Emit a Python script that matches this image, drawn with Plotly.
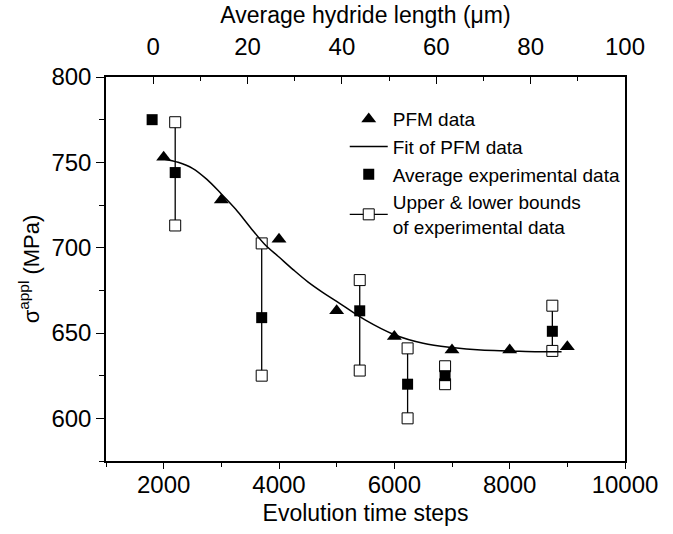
import plotly.graph_objects as go

# ---------------- data ----------------
pfm_x = [2000, 3000, 4000, 5000, 6000, 7000, 8000, 9000]
pfm_y = [753, 728, 705, 663, 648, 640, 640, 642]

fit_x = [2000, 2250, 2500, 2750, 3000, 3250, 3500, 3750, 4000, 4250, 4500,
         4750, 5000, 5500, 6000, 6500, 7000, 7500, 8000, 8500, 8900]
fit_y = [752, 750, 746.5, 740, 731.5, 722.5, 712, 702, 694.5, 687, 680,
         674, 668.5, 657.5, 649, 644, 641.5, 640, 639.5, 639, 639]

exp_x = [1800, 2200, 3700, 5400, 6230, 6880, 8740]
exp_avg = [775, 744, 659, 663, 620, 625, 651]

bnd_x = [2200, 3700, 5400, 6230, 6880, 8740]
bnd_upper = [773.5, 702.5, 681, 641, 630.5, 666]
bnd_lower = [713, 625, 628, 600, 620, 639.5]

hydride_range = [-10, 100]

FONT = "Liberation Sans, Arial, sans-serif"

# build bounds segments (None separated)
seg_x, seg_y = [], []
for xv, lo, hi in zip(bnd_x, bnd_lower, bnd_upper):
    seg_x += [xv, xv, None]
    seg_y += [lo, hi, None]

fig = go.Figure()

fig.add_trace(go.Scatter(
    x=seg_x, y=seg_y, mode="lines+markers",
    name="Upper & lower bounds<br>of experimental data",
    line=dict(color="black", width=1.3),
    marker=dict(symbol="square", size=11, color="white",
                line=dict(color="black", width=1)),
    legendrank=4,
))
fig.add_trace(go.Scatter(
    x=exp_x, y=exp_avg, mode="markers", name="Average experimental data",
    marker=dict(symbol="square", size=11, color="black"),
    legendrank=3,
))
fig.add_trace(go.Scatter(
    x=fit_x, y=fit_y, mode="lines", name="Fit of PFM data",
    line=dict(color="black", width=1.5, shape="spline"),
    legendrank=2,
))
fig.add_trace(go.Scatter(
    x=pfm_x, y=pfm_y, mode="markers", name="PFM data",
    marker=dict(symbol="triangle-up", size=13, color="black"),
    legendrank=1,
))
# dummy trace to attach the top axis
fig.add_trace(go.Scatter(
    x=hydride_range, y=[None, None], xaxis="x2", mode="markers",
    showlegend=False, hoverinfo="skip",
))

fig.update_layout(
    width=673, height=534,
    margin=dict(l=106, r=48, t=77, b=73),
    paper_bgcolor="white", plot_bgcolor="white",
    font=dict(family=FONT, color="black", size=23),
    showlegend=True,
    legend=dict(
        x=0.46, y=0.94, xanchor="left", yanchor="top",
        bgcolor="rgba(0,0,0,0)", borderwidth=0,
        font=dict(family=FONT, size=19, color="black"),
        tracegroupgap=0, itemwidth=38,
    ),
    xaxis=dict(
        range=[1000, 10000], tick0=0, dtick=2000, tickformat="d",
        showline=True, linecolor="black", linewidth=1.5,
        ticks="outside", ticklen=6, tickwidth=1.3, tickcolor="black",
        minor=dict(dtick=1000, ticks="outside", ticklen=4, tickwidth=1.3, tickcolor="black"),
        showgrid=False, zeroline=False, automargin=False,
        tickfont=dict(size=24), ticklabelstandoff=-5,
        title=dict(text="Evolution time steps", font=dict(size=23), standoff=8),
    ),
    xaxis2=dict(
        range=hydride_range, tick0=0, dtick=20, overlaying="x", side="top",
        anchor="y",
        showline=True, linecolor="black", linewidth=1.5,
        ticks="inside", ticklen=7, tickwidth=1.3, tickcolor="black",
        minor=dict(dtick=10, ticks="inside", ticklen=4, tickwidth=1.3, tickcolor="black"),
        showgrid=False, zeroline=False, automargin=False,
        tickfont=dict(size=24), ticklabelstandoff=11,
        title=dict(text="Average hydride length (\u03bcm)", font=dict(size=23), standoff=3),
    ),
    yaxis=dict(
        range=[575, 800], tick0=600, dtick=50,
        showline=True, linecolor="black", linewidth=1.5, mirror=True,
        ticks="outside", ticklen=8, tickwidth=1.3, tickcolor="black",
        minor=dict(dtick=25, ticks="outside", ticklen=5, tickwidth=1.3, tickcolor="black"),
        showgrid=False, zeroline=False, automargin=False,
        tickfont=dict(size=24),
        title=dict(text="\u03c3<sup>appl</sup> (MPa)", font=dict(size=22), standoff=6),
    ),
)

fig.write_html("out.html")
